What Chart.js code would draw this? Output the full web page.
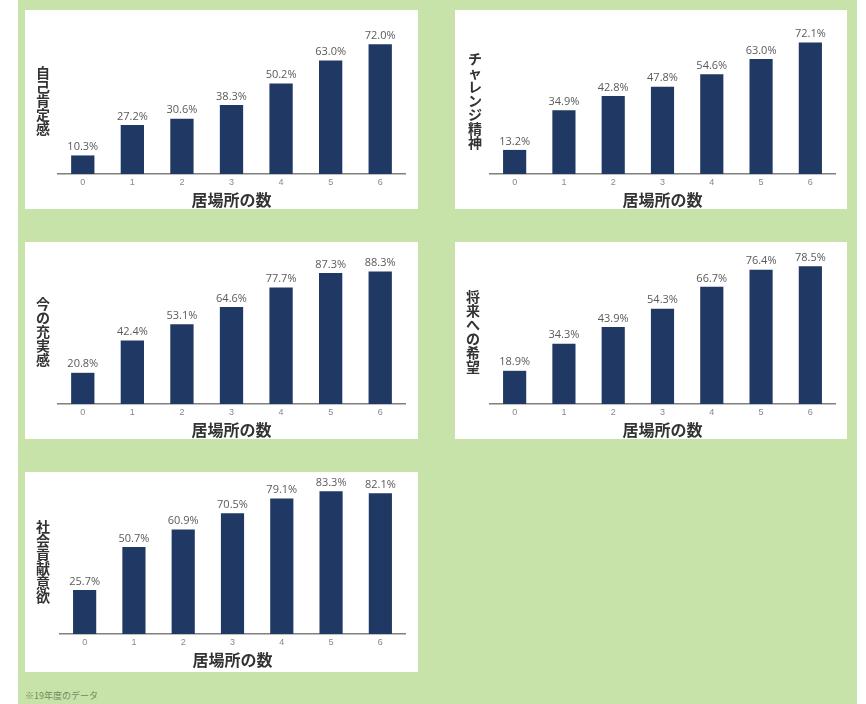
<!DOCTYPE html>
<html lang="ja">
<head>
<meta charset="utf-8">
<script src="https://cdn.jsdelivr.net/npm/chart.js@4/dist/chart.umd.min.js"></script>
<style>
  body { margin: 0; background: #ffffff; width: 866px; height: 704px; overflow: hidden; }
  #bg { position: absolute; left: 18px; top: 0; width: 839px; height: 704px; background: #c8e3a9; }
  .panel { position: absolute; background: #ffffff; }
  .note { position: absolute; left: 25px; top: 689px; font: 9px "Noto Sans CJK JP", sans-serif; color: #6f8a5f; }
</style>
</head>
<body>
<div id="bg"></div>
<div class="panel" id="p1" style="left:25px;top:10px;width:393px;height:199px"><canvas id="c1"></canvas></div>
<div class="panel" id="p2" style="left:455px;top:10px;width:392px;height:199px"><canvas id="c2"></canvas></div>
<div class="panel" id="p3" style="left:25px;top:242px;width:393px;height:197px"><canvas id="c3"></canvas></div>
<div class="panel" id="p4" style="left:455px;top:242px;width:392px;height:197px"><canvas id="c4"></canvas></div>
<div class="panel" id="p5" style="left:25px;top:472px;width:393px;height:200px"><canvas id="c5"></canvas></div>
<div class="note">※19年度のデータ</div>
<script>
// 居場所の数 (0〜6)
const labels = ["0", "1", "2", "3", "4", "5", "6"];

const jikoKouteikan = [10.3, 27.2, 30.6, 38.3, 50.2, 63.0, 72.0];
const challenge = [13.2, 34.9, 42.8, 47.8, 54.6, 63.0, 72.1];
const juujitsukan = [20.8, 42.4, 53.1, 64.6, 77.7, 87.3, 88.3];
const kibou = [18.9, 34.3, 43.9, 54.3, 66.7, 76.4, 78.5];
const shakaiKouken = [25.7, 50.7, 60.9, 70.5, 79.1, 83.3, 82.1];

const navy = "#1f3864";

// 棒の上に値を表示
const valueLabels = {
  id: "valueLabels",
  afterDatasetsDraw(chart) {
    const ctx = chart.ctx;
    const meta = chart.getDatasetMeta(0);
    const values = chart.data.datasets[0].data;
    ctx.save();
    ctx.font = '11px "Open Sans", "Noto Sans", sans-serif';
    ctx.fillStyle = "#5a5a5a";
    ctx.textAlign = "center";
    ctx.textBaseline = "bottom";
    meta.data.forEach((bar, i) => {
      ctx.fillText(values[i].toFixed(1) + "%", bar.x, bar.y - 3);
    });
    ctx.restore();
  },
};

// 縦書きのタイトル
const tateTitle = {
  id: "tateTitle",
  afterDraw(chart, args, opts) {
    if (!opts.text) return;
    const ctx = chart.ctx;
    const chars = Array.from(opts.text);
    const step = 14;
    const area = chart.chartArea;
    const mid = (area.top + area.bottom) / 2;
    let y = mid - (chars.length * step) / 2 + step / 2;
    ctx.save();
    ctx.font = 'bold 14px "Noto Sans CJK JP", sans-serif';
    ctx.fillStyle = "#333333";
    ctx.textAlign = "center";
    ctx.textBaseline = "middle";
    chars.forEach((ch) => {
      ctx.fillText(ch, opts.x, y);
      y += step;
    });
    ctx.restore();
  },
};

function makeChart(id, data, title, yMax, pad, titleX) {
  const ctx = document.getElementById(id).getContext("2d");
  return new Chart(ctx, {
    type: "bar",
    data: {
      labels: labels,
      datasets: [
        {
          data: data,
          backgroundColor: navy,
          barPercentage: 0.47,
          categoryPercentage: 1.0,
        },
      ],
    },
    options: {
      responsive: true,
      maintainAspectRatio: false,
      animation: false,
      layout: {
        padding: pad,
      },
      plugins: {
        legend: { display: false },
        tooltip: { enabled: false },
        tateTitle: { text: title, x: titleX },
      },
      scales: {
        x: {
          grid: { display: false, drawTicks: false },
          border: { display: true, color: "#808080", width: 1.5 },
          ticks: {
            color: "#888888",
            padding: 4,
            font: { size: 9, lineHeight: 1.0 },
          },
          title: {
            display: true,
            text: "居場所の数",
            color: "#333333",
            padding: { top: 1, bottom: 1 },
            font: { size: 16, weight: "bold", lineHeight: 1.0, family: '"Noto Sans CJK JP", sans-serif' },
          },
        },
        y: {
          display: false,
          min: 0,
          max: yMax,
        },
      },
    },
    plugins: [valueLabels, tateTitle],
  });
}

makeChart("c1", jikoKouteikan, "自己肯定感", 81, { left: 33, right: 13, top: 18, bottom: 0 }, 18);
makeChart("c2", challenge, "チャレンジ精神", 80, { left: 35, right: 12, top: 18, bottom: 0 }, 20);
makeChart("c3", juujitsukan, "今の充実感", 96, { left: 33, right: 13, top: 18, bottom: 0 }, 18);
makeChart("c4", kibou, "将来への希望", 82, { left: 35, right: 12, top: 18, bottom: 0 }, 18);
makeChart("c5", shakaiKouken, "社会貢献意欲", 84, { left: 35, right: 13, top: 18, bottom: 3 }, 18);
</script>
</body>
</html>
